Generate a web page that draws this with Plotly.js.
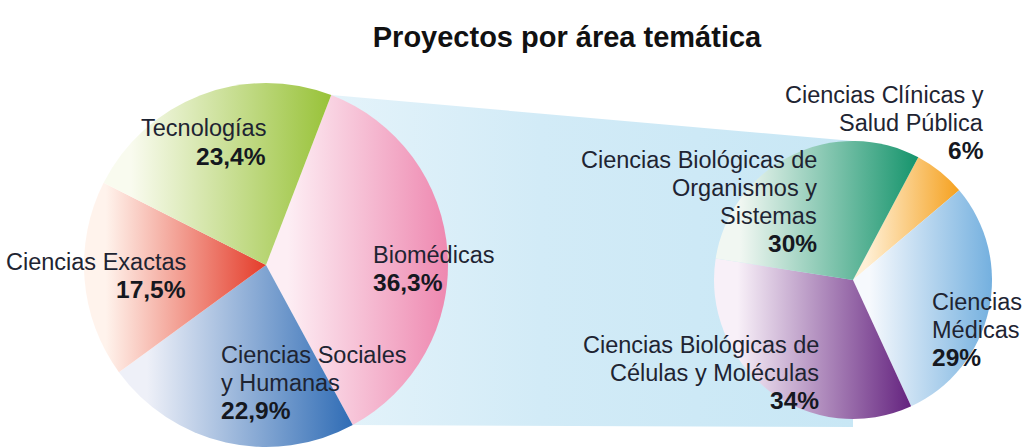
<!DOCTYPE html>
<html><head><meta charset="utf-8">
<script src="https://cdn.plot.ly/plotly-3.0.1.min.js"></script>
<style>html,body{margin:0;padding:0;background:#fff;}#chart{width:1025px;height:448px;}</style>
</head><body><div id="chart"></div>
<script>
// ---- data ----
const titleText = 'Proyectos por área temática';
const leftLabels = ['Biomédicas', 'Ciencias Sociales<br>y Humanas', 'Ciencias Exactas', 'Tecnologías'];
const leftValues = [36.3, 22.9, 17.5, 23.4];
const rightLabels = ['Ciencias Clínicas y<br>Salud Pública', 'Ciencias<br>Médicas', 'Ciencias Biológicas de<br>Células y Moléculas', 'Ciencias Biológicas de<br>Organismos y<br>Sistemas'];
const rightValues = [6, 29, 34, 30];

// ---- styles ----
const leftColors = ['#ee88b0', '#2f6cb5', '#e43c2a', '#98c238'];
const leftLight  = ['#fdeef4', '#eef0f8', '#fff3ec', '#f9fbef'];
const rightColors = ['#f5a11f', '#74b0df', '#64237f', '#15946c'];
const rightLight  = ['#fff0d6', '#f6f9fd', '#f8f0f8', '#f1f7f2'];

const W = 1025, H = 448;
const L = {cx: 266, cy: 265, r: 182, rot: 21};
const R = {cx: 853, cy: 280, r: 139, rot: 28};
function dom(p){ return {x:[(p.cx-p.r)/W,(p.cx+p.r)/W], y:[1-(p.cy+p.r)/H, 1-(p.cy-p.r)/H]}; }

const FONT = 'Liberation Sans, Arial, sans-serif';
const NAME_SIZE = 23.5, PCT_SIZE = 24.5, GAP = 28;
const TXT = '#1e2432';

// label anchor: x px, first baseline px, alignment
const leftPos = [
  {x: 372, b: 263.3, a: 'left'},
  {x: 220, b: 363.3, a: 'left'},
  {x: 187, b: 270, a: 'right'},
  {x: 267, b: 136.7, a: 'right'}
];
const rightPos = [
  {x: 985, b: 103.3, a: 'right'},
  {x: 931, b: 310, a: 'left'},
  {x: 820, b: 353.3, a: 'right'},
  {x: 818, b: 168.3, a: 'right'}
];

function fmtL(v){ return v.toFixed(1).replace('.', ',') + '%'; }
function fmtR(v){ return String(v) + '%'; }

const annotations = [];
function addLabels(labels, values, pos, fmt){
  labels.forEach((lab, i) => {
    const lines = lab.split('<br>');
    const p = pos[i];
    lines.forEach((ln, k) => {
      const base = p.b + k*GAP;
      annotations.push({text: ln, xref:'paper', yref:'paper', x: p.x/W, y: 1-(base-0.35*NAME_SIZE)/H,
        xanchor: p.a, yanchor:'middle', showarrow:false, borderpad:0,
        font:{family:FONT, size:NAME_SIZE, color:TXT}});
    });
    const base = p.b + lines.length*GAP;
    annotations.push({text: '<b>'+fmt(values[i])+'</b>', xref:'paper', yref:'paper', x: p.x/W, y: 1-(base-0.35*PCT_SIZE)/H,
      xanchor: p.a, yanchor:'middle', showarrow:false, borderpad:0,
      font:{family:FONT, size:PCT_SIZE, color:'#15181f'}});
  });
}
addLabels(leftLabels, leftValues, leftPos, fmtL);
addLabels(rightLabels, rightValues, rightPos, fmtR);

// connecting band: from the edges of the exploded slice (first left slice) to the right pie
const sumL = leftValues.reduce((a,b)=>a+b,0);
const a0 = L.rot*Math.PI/180, a1 = (L.rot + leftValues[0]/sumL*360)*Math.PI/180;
function pt(p, a){ return [p.cx + p.r*Math.sin(a), p.cy - p.r*Math.cos(a)]; }
const p1 = pt(L, a0), p4 = pt(L, a1);
const p2 = [R.cx, R.cy - R.r], p3 = [R.cx, R.cy + R.r + 8];
function P(q){ return (q[0]/W).toFixed(5)+','+(1-q[1]/H).toFixed(5); }
const bandPath = 'M'+P(p1)+' L'+P(p2)+' L'+P(p3)+' L'+P(p4)+' Z';

const data = [
  {type:'pie', labels: leftLabels.map(s=>s.replace(/<br>/g,' ')), values: leftValues, sort:false, direction:'clockwise',
   rotation: L.rot, domain: dom(L), textinfo:'none', hoverinfo:'label+percent',
   marker:{colors: leftColors, line:{width:0}}, showlegend:false},
  {type:'pie', labels: rightLabels.map(s=>s.replace(/<br>/g,' ')), values: rightValues, sort:false, direction:'clockwise',
   rotation: R.rot, domain: dom(R), textinfo:'none', hoverinfo:'label+percent',
   marker:{colors: rightColors, line:{width:0}}, showlegend:false}
];

const layout = {
  width: W, height: H, margin:{l:0,r:0,t:0,b:0},
  paper_bgcolor:'#ffffff', plot_bgcolor:'#ffffff',
  showlegend:false,
  title:{text: titleText, x: 567/W, xanchor:'center', xref:'paper', yref:'paper', y: 1-(46.7-0.35*29)/H, yanchor:'middle',
         font:{family:'Liberation Sans, Arial, sans-serif', size:29, color:'#111111', weight:'bold'}},
  shapes:[{type:'path', path: bandPath, xref:'paper', yref:'paper', layer:'below', fillcolor:'#cde9f6', line:{width:0}}],
  annotations: annotations
};

const gd = document.getElementById('chart');
Plotly.newPlot(gd, data, layout, {staticPlot:true, displayModeBar:false}).then(() => {
  const NS = 'http://www.w3.org/2000/svg';
  const svg = gd.querySelector('svg.main-svg');
  let defs = svg.querySelector('defs');
  if(!defs){ defs = document.createElementNS(NS,'defs'); svg.insertBefore(defs, svg.firstChild); }
  function addGrad(id, c0, c1){
    const g = document.createElementNS(NS,'linearGradient');
    g.setAttribute('id', id); g.setAttribute('x1','0'); g.setAttribute('y1','0'); g.setAttribute('x2','1'); g.setAttribute('y2','0');
    [[0,c0],[0.12,c0],[1,c1]].forEach(([o,c]) => { const s=document.createElementNS(NS,'stop'); s.setAttribute('offset',o); s.setAttribute('stop-color',c); g.appendChild(s); });
    defs.appendChild(g);
  }
  const sets = [[leftLight,leftColors],[rightLight,rightColors]];
  gd.querySelectorAll('.pielayer g.trace').forEach((tr, ti) => {
    tr.querySelectorAll('g.slice').forEach((sl, k) => {
      const i = (sl.__data__ && sl.__data__.i != null) ? sl.__data__.i : k;
      const id = 'grad_'+ti+'_'+i;
      addGrad(id, sets[ti][0][i], sets[ti][1][i]);
      const path = sl.querySelector('path.surface');
      if(path) path.style.fill = 'url(#'+id+')';
    });
  });
  // band gradient
  const bg = document.createElementNS(NS,'linearGradient');
  bg.setAttribute('id','bandgrad'); bg.setAttribute('x1','0'); bg.setAttribute('y1','0'); bg.setAttribute('x2','1'); bg.setAttribute('y2','0');
  [[0,'#e4f3fa'],[0.4,'#d2ebf7'],[1,'#c8e7f5']].forEach(([o,c]) => { const s=document.createElementNS(NS,'stop'); s.setAttribute('offset',o); s.setAttribute('stop-color',c); bg.appendChild(s); });
  defs.appendChild(bg);
  gd.querySelectorAll('.shapelayer path').forEach(p => { p.style.fill = 'url(#bandgrad)'; });
});
</script>
</body></html>
